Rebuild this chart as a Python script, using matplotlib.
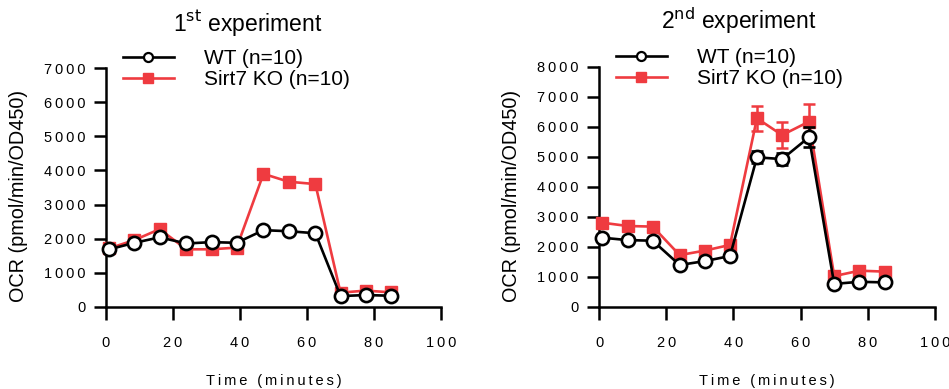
import numpy as np
import matplotlib.pyplot as plt
from matplotlib.lines import Line2D

plt.rcParams['font.family'] = ['Liberation Sans', 'DejaVu Sans']

# time points (minutes)
time = [1, 8.5, 16, 24, 31.5, 39, 47, 54.5, 62.5, 70, 77.5, 85]

# 1st experiment
wt1 = [1690, 1880, 2040, 1860, 1900, 1880, 2250, 2220, 2160, 320, 350, 330]
ko1 = [1720, 1960, 2280, 1690, 1690, 1740, 3900, 3670, 3600, 420, 480, 430]

# 2nd experiment
wt2 = [2310, 2230, 2210, 1400, 1530, 1700, 4990, 4930, 5660, 770, 840, 820]
ko2 = [2810, 2700, 2680, 1730, 1880, 2070, 6290, 5730, 6180, 1030, 1210, 1180]
wt2_err = [80, 60, 60, 60, 60, 60, 200, 200, 340, 60, 60, 60]
ko2_err = [80, 60, 60, 80, 60, 60, 410, 440, 590, 80, 60, 60]

titles = ['1$^{\\rm st}$ experiment', '2$^{\\rm nd}$ experiment']
ymax = [7000, 8000]

RED = '#ef3b40'
THIN = '\u2009'

def spaced(s):
	return THIN.join(s)

def style_axes(ax, top, title, title_x):
	ax.set_xlim(0, 100)
	ax.set_ylim(0, top)
	ax.set_xticks(range(0, 101, 20))
	ax.set_yticks(range(0, top + 1, 1000))
	ax.set_xticklabels([spaced(str(v)) for v in range(0, 101, 20)], fontsize=10.5)
	ax.set_yticklabels([spaced(str(v)) for v in range(0, top + 1, 1000)], fontsize=10.5)
	for s in ['top', 'right']:
		ax.spines[s].set_visible(False)
	for s in ['left', 'bottom']:
		ax.spines[s].set_linewidth(1.8)
	ax.tick_params(axis='both', direction='out', length=9, width=1.8)
	ax.tick_params(axis='y', pad=6)
	ax.tick_params(axis='x', pad=12)
	ax.set_xlabel(spaced('Time (minutes)'), fontsize=10.5, labelpad=17)
	ax.set_ylabel('OCR (pmol/min/OD450)', fontsize=14.3)
	ax.yaxis.set_label_coords(-0.233, 0.464)
	ax.set_title(title, fontsize=16.5, pad=27, x=title_x)

fig = plt.figure(figsize=(9.49, 3.89), dpi=100)
ax1 = fig.add_axes([106/949, 82/389, 335/949, 239/389])
ax2 = fig.add_axes([599/949, 82/389, 336/949, 240/389])

wt_style = dict(color='black', lw=1.9, marker='o', ms=9.5, mec='black', mfc='white', mew=1.9)
ko_style = dict(color=RED, lw=1.9, marker='s', ms=8.5, mec=RED, mfc=RED)

# 1st experiment
ax1.plot(time, ko1, clip_on=False, zorder=3, **ko_style)
ax1.plot(time, wt1, clip_on=False, zorder=4, **wt_style)

# 2nd experiment
ax2.errorbar(time, ko2, yerr=ko2_err, capsize=4, elinewidth=1.8, capthick=1.8,
	clip_on=False, zorder=3, **ko_style)
ax2.errorbar(time, wt2, yerr=wt2_err, capsize=4, elinewidth=1.8, capthick=1.8,
	clip_on=False, zorder=4, **wt_style)

for ax, top, title, tx in zip([ax1, ax2], ymax, titles, [0.422, 0.417]):
	style_axes(ax, top, title, tx)
	handles = [Line2D([], [], color='black', lw=1.9, marker='o', ms=6.5, mec='black', mfc='white', mew=1.6),
		Line2D([], [], color=RED, lw=1.9, marker='s', ms=7, mec=RED, mfc=RED)]
	ax.legend(handles, ['WT (n=10)', 'Sirt7 KO (n=10)'], loc='upper left',
		bbox_to_anchor=(0.05, 1.08), frameon=False, fontsize=15, borderpad=0,
		borderaxespad=0, handlelength=2.45, handletextpad=1.45, labelspacing=0.1)

fig.savefig('out.png', dpi=100)
